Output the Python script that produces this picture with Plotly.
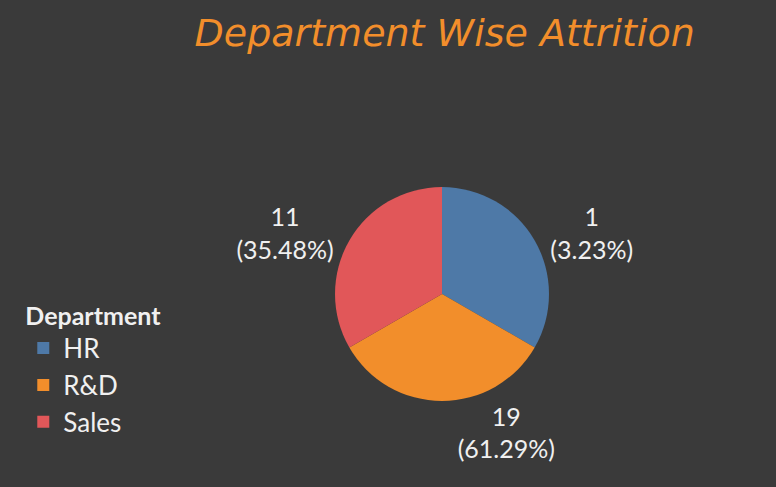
import plotly.graph_objects as go

departments = ["HR", "R&D", "Sales"]
attrition = [1, 19, 11]
attrition_pct = ["3.23%", "61.29%", "35.48%"]
slice_weight = [1, 1, 1]  # angular measure shown in the pie (equal thirds)
colors = ["#4e79a7", "#f28e2b", "#e15759"]

BG = "#3a3a3a"
TXT = "#f0f0f0"

fig = go.Figure(go.Pie(
    labels=departments,
    values=slice_weight,
    customdata=list(zip(attrition, attrition_pct)),
    texttemplate="%{customdata[0]}<br>(%{customdata[1]})",
    textposition="outside",
    sort=False,
    direction="clockwise",
    rotation=0,
    marker=dict(colors=colors, line=dict(width=0)),
    outsidetextfont=dict(color=TXT, size=25, family="Lato"),
    domain=dict(x=[0.4317, 0.7075], y=[0.1766, 0.616]),
    automargin=False,
    showlegend=True,
))

fig.update_layout(
    width=776, height=487,
    paper_bgcolor=BG, plot_bgcolor=BG,
    margin=dict(l=0, r=0, t=0, b=0),
    title=dict(text="<i>Department Wise Attrition</i>", x=0.573, xanchor="center",
               y=0.932, yanchor="middle",
               font=dict(family="DejaVu Sans", size=38, color="#f28e2b")),
    legend=dict(
        title=dict(text="<b>Department</b>", font=dict(size=25, color=TXT, family="Lato")),
        font=dict(size=26, color=TXT, family="Lato"),
        x=0.03, xanchor="left", y=0.40, yanchor="top",
        bgcolor="rgba(0,0,0,0)",
    ),
)

fig.write_html(
    "out.html",
    config={"displayModeBar": False},
    post_script="document.body.style.margin='0';document.body.style.background='%s';" % BG,
)
